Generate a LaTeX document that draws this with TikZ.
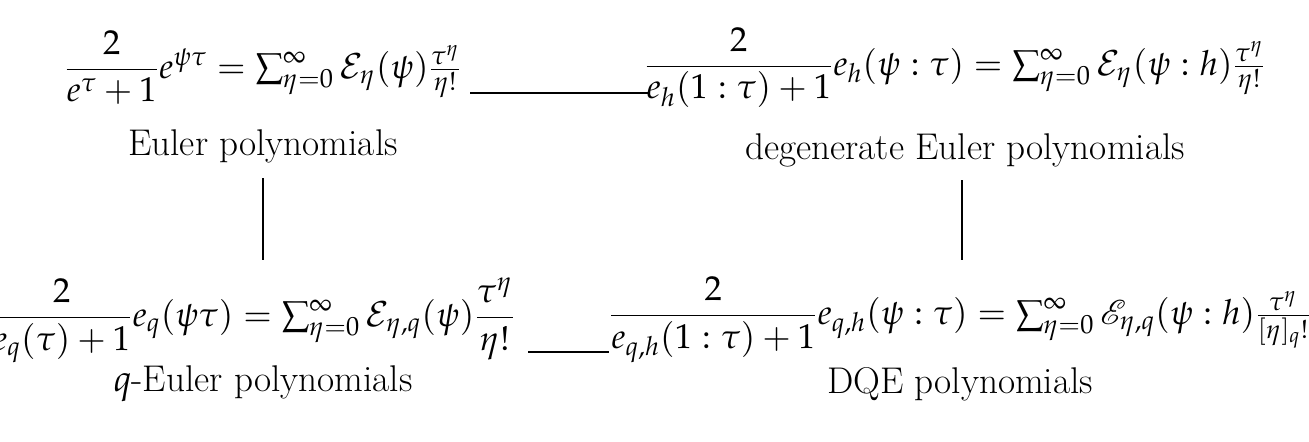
\documentclass[tikz,border=0pt]{standalone}
\usepackage{amsmath}
\usepackage{mathpazo}
\usepackage{mathrsfs}
\begin{document}
\begin{tikzpicture}[x=0.5pt,y=-0.5pt,every node/.style={inner sep=0pt,font=\fontsize{17.3}{20}\selectfont},lbl/.style={font=\fontsize{18.6}{22}\selectfont},conn/.style={draw,line width=0.6pt}]
\useasboundingbox (0,0) rectangle (1309,441);
\node (f1) at (263,68) {$\dfrac{2}{e^{\tau}+1}e^{\psi\tau}=\sum_{\eta=0}^{\infty}\mathcal{E}_{\eta}(\psi)\frac{\tau^{\eta}}{\eta!}$};
\node[lbl] (l1) at (263,146) {Euler polynomials};
\node (f2) at (955,68) {$\dfrac{2}{e_h(1:\tau)+1}e_h(\psi:\tau)=\sum_{\eta=0}^{\infty}\mathcal{E}_{\eta}(\psi:h)\frac{\tau^{\eta}}{\eta!}$};
\node[lbl] (l2) at (965,150) {degenerate Euler polynomials};
\node (f3) at (253,320) {$\dfrac{2}{e_q(\tau)+1}e_q(\psi\tau)=\sum_{\eta=0}^{\infty}\mathcal{E}_{\eta,q}(\psi)\dfrac{\tau^{\eta}}{\eta!}$};
\node[lbl] (l3) at (263,384) {$q$-Euler polynomials};
\node (f4) at (960,320) {$\dfrac{2}{e_{q,h}(1:\tau)+1}e_{q,h}(\psi:\tau)=\sum_{\eta=0}^{\infty}\mathscr{E}_{\eta,q}(\psi:h)\frac{\tau^{\eta}}{[\eta]_q!}$};
\node[lbl] (l4) at (960,384) {DQE polynomials};
\coordinate (a1) at (470,93); \coordinate (a2) at (648,93);
\coordinate (b1) at (528,352); \coordinate (b2) at (609,352);
\coordinate (c1) at (263,178); \coordinate (c2) at (263,260);
\coordinate (d1) at (962,180); \coordinate (d2) at (962,260);
\draw[conn] (a1)--(a2); \draw[conn] (b1)--(b2);
\draw[conn] (c1)--(c2); \draw[conn] (d1)--(d2);
\end{tikzpicture}
\end{document}
